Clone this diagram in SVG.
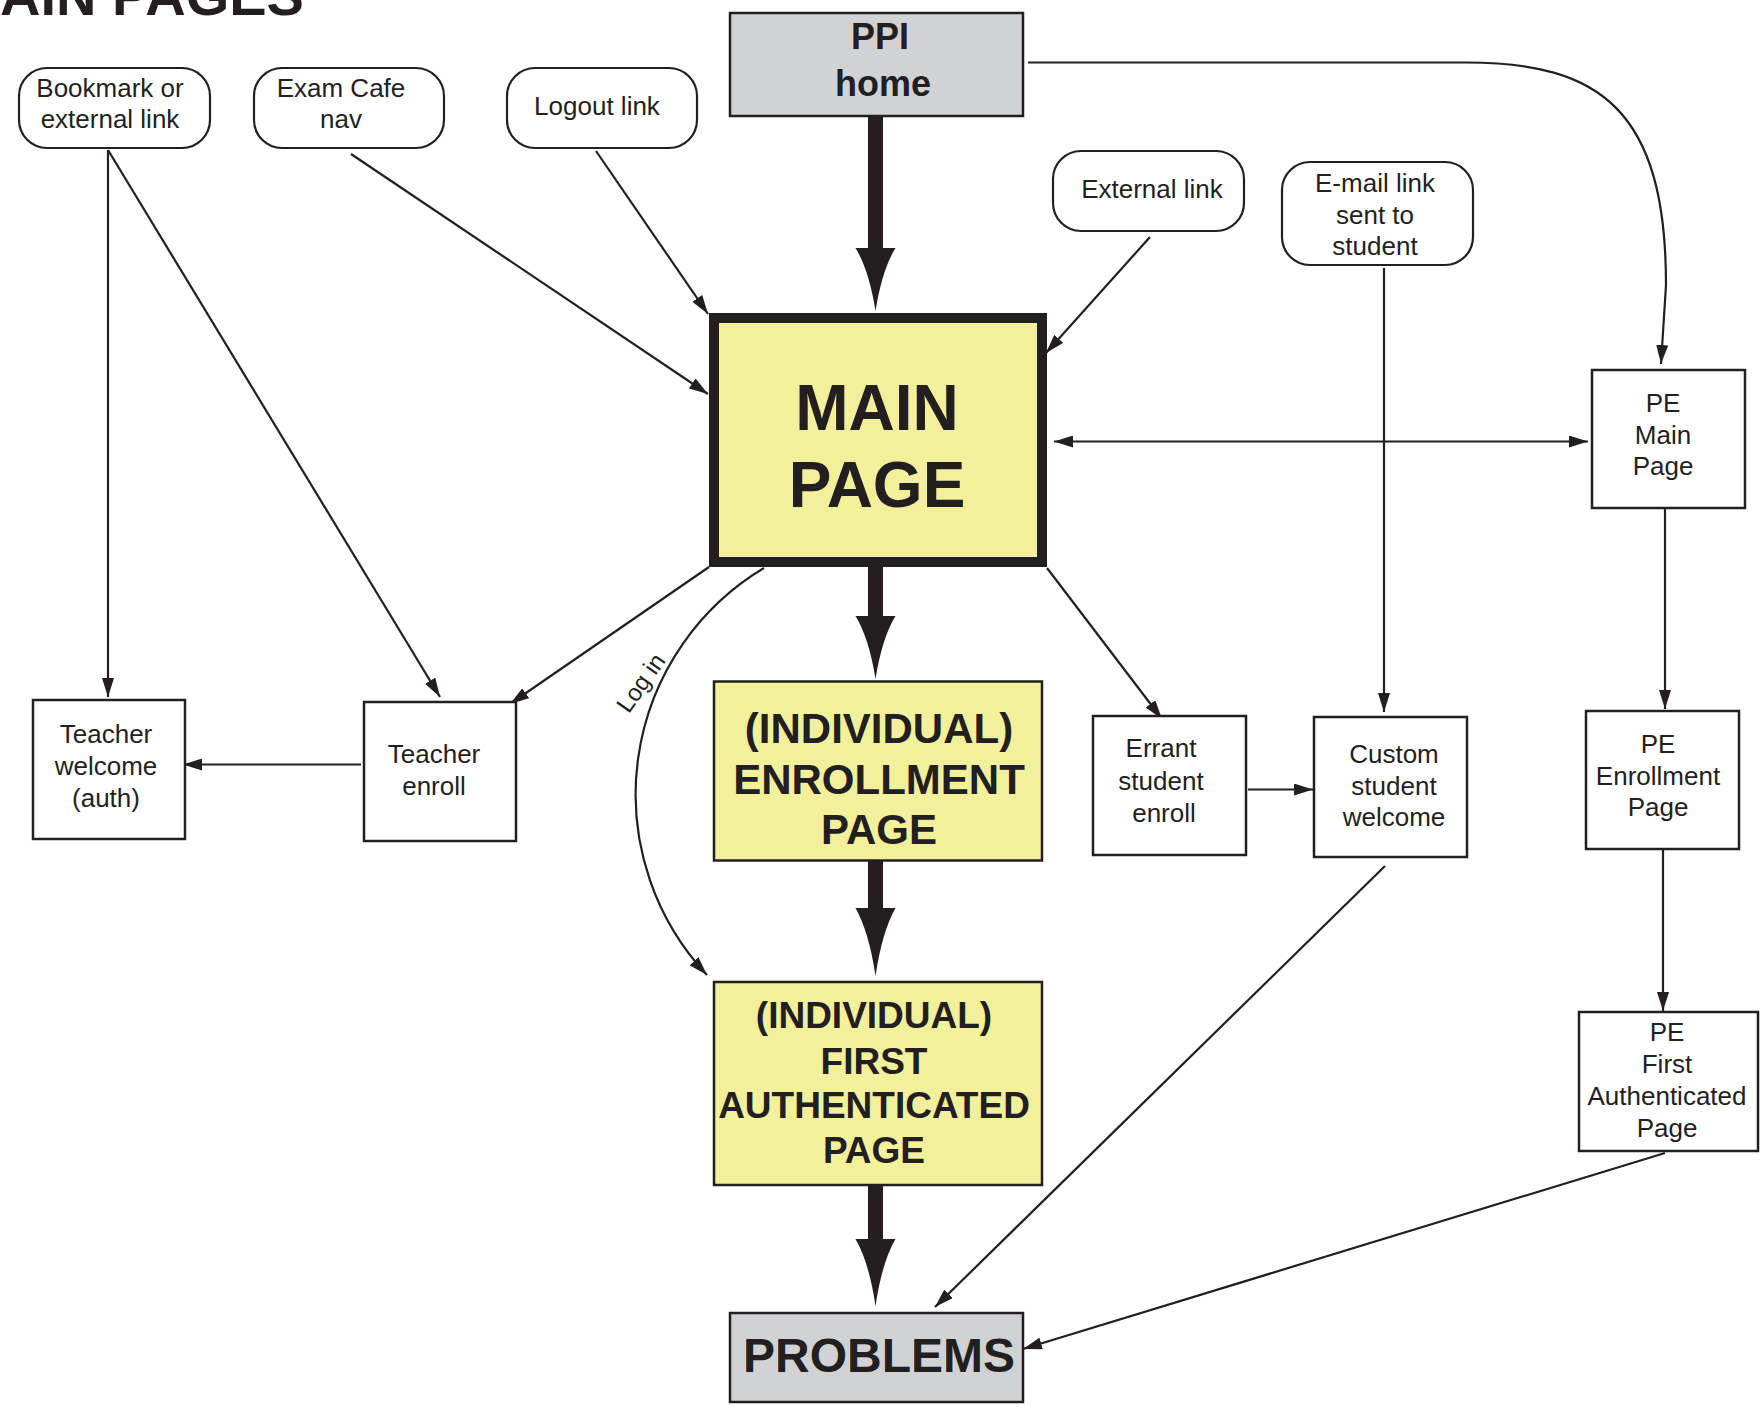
<svg xmlns="http://www.w3.org/2000/svg" width="1763" height="1407" viewBox="0 0 1763 1407">
<defs>
<style>
.t{font-family:"Liberation Sans",Arial,sans-serif;font-size:26px;fill:#231f20;text-anchor:middle}
.b{font-family:"Liberation Sans",Arial,sans-serif;font-weight:bold;fill:#231f20;text-anchor:middle}
.rb{fill:#fff;stroke:#231f20;stroke-width:2.2}
.bx{fill:#fff;stroke:#231f20;stroke-width:2.5}
.yl{fill:#f2f09a;stroke:#231f20;stroke-width:2.5}
.gr{fill:#d1d2d4;stroke:#231f20;stroke-width:2.5}
.c{fill:none;stroke:#231f20;stroke-width:2.2;marker-end:url(#ah)}
.th{fill:#231f20}
</style>
<marker id="ah" markerUnits="userSpaceOnUse" viewBox="0 0 19 12" markerWidth="19" markerHeight="12" refX="19" refY="6" orient="auto-start-reverse">
<path d="M0,0 L19,6 L0,12 Z" fill="#231f20"/>
</marker>
</defs>
<rect width="1763" height="1407" fill="#fff"/>
<text class="b" x="0" y="15" style="font-size:56px;text-anchor:start">AIN PAGES</text>

<g id="connectors">
<path class="c" d="M108,150 L108,697"/>
<path class="c" d="M108,150 L440,697"/>
<path class="c" d="M351,154 L708,394"/>
<path class="c" d="M596,151 L708,314"/>
<path class="c" d="M1150,237 L1046,353"/>
<path class="c" d="M1054,441.5 L1588,441.5" style="marker-start:url(#ah)"/>
<path class="c" d="M1028,62.5 L1466,62.5 C1600,62.5 1666,110 1666,285 L1661,364"/>
<path class="c" d="M1384,268 L1384,712"/>
<path class="c" d="M1047,568 L1162,719"/>
<path class="c" d="M709,567 L510,704"/>
<path class="c" d="M764,568 A264,264 0 0 0 707,975"/>
<path class="c" d="M1248,789.5 L1313,789.5"/>
<path class="c" d="M361,764.5 L183,764.5"/>
<path class="c" d="M1665,508 L1665,709"/>
<path class="c" d="M1663,849 L1663,1011"/>
<path class="c" d="M1385,866 L935,1307"/>
<path class="c" d="M1665,1153 L1023,1349"/>
<rect class="th" x="868" y="117" width="15" height="133"/>
<path class="th" d="M855.5,248 L895.5,248 Q882,270 875.5,311 Q869,270 855.5,248 Z"/>
<rect class="th" x="868" y="566" width="15" height="52"/>
<path class="th" d="M855.5,616 L895.5,616 Q882,638 875.5,679 Q869,638 855.5,616 Z"/>
<rect class="th" x="868" y="860" width="15" height="50"/>
<path class="th" d="M855.5,908 L895.5,908 Q882,932 875.5,976 Q869,932 855.5,908 Z"/>
<rect class="th" x="868" y="1185" width="15" height="56"/>
<path class="th" d="M855.5,1239 L895.5,1239 Q882,1262 875.5,1306 Q869,1262 855.5,1239 Z"/>
<text class="t" transform="translate(641,683) rotate(-55)" x="0" y="8" style="font-size:24px">Log in</text>
</g>

<g id="bookmark"><rect class="rb" x="19" y="68" width="191" height="80" rx="28"/><text class="t" x="110" y="97">Bookmark or</text><text class="t" x="110" y="128">external link</text></g>
<g id="examcafe"><rect class="rb" x="254" y="68" width="190" height="80" rx="28"/><text class="t" x="341" y="97">Exam Cafe</text><text class="t" x="341" y="128">nav</text></g>
<g id="logout"><rect class="rb" x="507" y="68" width="190" height="80" rx="28"/><text class="t" x="597" y="115">Logout link</text></g>
<g id="external"><rect class="rb" x="1053" y="151" width="191" height="80" rx="28"/><text class="t" x="1152" y="198">External link</text></g>
<g id="email"><rect class="rb" x="1282" y="162" width="191" height="103" rx="28"/><text class="t" x="1375" y="192">E-mail link</text><text class="t" x="1375" y="223.5">sent to</text><text class="t" x="1375" y="255">student</text></g>
<g id="ppi"><rect class="gr" x="730" y="13" width="293" height="103"/><text class="b" x="880" y="49" style="font-size:36px">PPI</text><text class="b" x="883" y="96" style="font-size:36px">home</text></g>
<g id="main"><rect x="714" y="318" width="328" height="244" fill="#f2f09a" stroke="#231f20" stroke-width="10"/><text class="b" x="877" y="430" style="font-size:64px">MAIN</text><text class="b" x="877" y="507" style="font-size:64px">PAGE</text></g>
<g id="enrollment"><rect class="yl" x="714" y="681.5" width="328" height="179"/><text class="b" x="879" y="743" style="font-size:42px">(INDIVIDUAL)</text><text class="b" x="879" y="794" style="font-size:42px">ENROLLMENT</text><text class="b" x="879" y="844" style="font-size:42px">PAGE</text></g>
<g id="firstauth"><rect class="yl" x="714" y="982" width="328" height="203"/><text class="b" x="874" y="1028" style="font-size:37px">(INDIVIDUAL)</text><text class="b" x="874" y="1073.5" style="font-size:37px">FIRST</text><text class="b" x="874" y="1118" style="font-size:37px">AUTHENTICATED</text><text class="b" x="874" y="1163" style="font-size:37px">PAGE</text></g>
<g id="problems"><rect class="gr" x="730" y="1313" width="293" height="89"/><text class="b" x="879" y="1372" style="font-size:48px">PROBLEMS</text></g>
<g id="teacherwelcome"><rect class="bx" x="33" y="700" width="152" height="139"/><text class="t" x="106" y="743">Teacher</text><text class="t" x="106" y="775">welcome</text><text class="t" x="106" y="807">(auth)</text></g>
<g id="teacherenroll"><rect class="bx" x="364" y="702" width="152" height="139"/><text class="t" x="434" y="763">Teacher</text><text class="t" x="434" y="795">enroll</text></g>
<g id="errant"><rect class="bx" x="1093" y="716" width="153" height="139"/><text class="t" x="1161" y="757">Errant</text><text class="t" x="1161" y="789.5">student</text><text class="t" x="1164" y="822">enroll</text></g>
<g id="custom"><rect class="bx" x="1314" y="717" width="153" height="140"/><text class="t" x="1394" y="763">Custom</text><text class="t" x="1394" y="794.5">student</text><text class="t" x="1394" y="826">welcome</text></g>
<g id="pemain"><rect class="bx" x="1592" y="370" width="153" height="138"/><text class="t" x="1663" y="412">PE</text><text class="t" x="1663" y="444">Main</text><text class="t" x="1663" y="475">Page</text></g>
<g id="peenroll"><rect class="bx" x="1586" y="711" width="153" height="138"/><text class="t" x="1658" y="753">PE</text><text class="t" x="1658" y="785">Enrollment</text><text class="t" x="1658" y="816">Page</text></g>
<g id="pefirst"><rect class="bx" x="1579" y="1012" width="179" height="139"/><text class="t" x="1667" y="1041">PE</text><text class="t" x="1667" y="1073">First</text><text class="t" x="1667" y="1105">Authenticated</text><text class="t" x="1667" y="1137">Page</text></g>
</svg>
